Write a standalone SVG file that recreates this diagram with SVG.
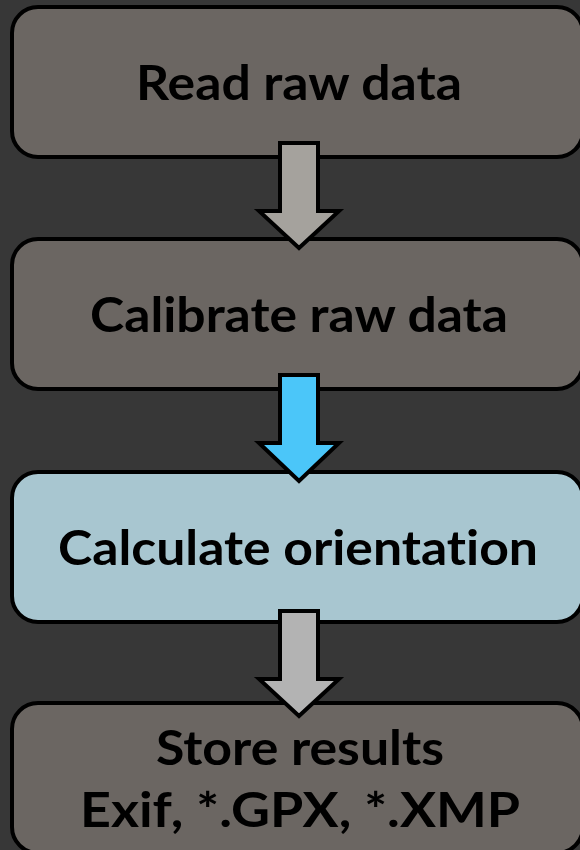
<svg xmlns="http://www.w3.org/2000/svg" width="580" height="850" viewBox="0 0 580 850">
<style>
.box{stroke:#000;stroke-width:4;}
.g{fill:#6b6662;}
.b{fill:#a8c6d0;}
.arr{stroke:#000;stroke-width:4;stroke-linejoin:miter;}
.t{font-family:"Lato","Liberation Sans",sans-serif;font-weight:bold;font-size:48px;fill:#000;text-anchor:middle;font-variant-ligatures:none;font-feature-settings:"liga" 0,"clig" 0;}
</style>
<rect x="0" y="0" width="580" height="850" fill="#373737"/>
<g id="node1"><rect class="box g" x="12" y="7" width="571" height="150" rx="26"/><text class="t" x="299" y="100" textLength="326" lengthAdjust="spacingAndGlyphs">Read raw data</text></g>
<g id="node2"><rect class="box g" x="12" y="239" width="571" height="150" rx="26"/><text class="t" x="299" y="332" textLength="418" lengthAdjust="spacingAndGlyphs">Calibrate raw data</text></g>
<g id="node3"><rect class="box b" x="12" y="472" width="571" height="150" rx="26"/><text class="t" x="298" y="565" textLength="480" lengthAdjust="spacingAndGlyphs">Calculate orientation</text></g>
<g id="node4"><rect class="box g" x="12" y="703" width="571" height="150" rx="26"/><text class="t" x="300" y="765" textLength="288" lengthAdjust="spacingAndGlyphs">Store results</text><text class="t" x="300" y="827" textLength="440" lengthAdjust="spacingAndGlyphs">Exif, *.GPX, *.XMP</text></g>
<g id="connectors">
<path class="arr" fill="#a5a29d" d="M280,143 H318 V211 H339 L299,248 L259,211 H280 Z"/>
<path class="arr" fill="#4bc6f9" d="M280,375 H318 V443 H339 L299,481 L259,443 H280 Z"/>
<path class="arr" fill="#b3b3b3" d="M280,611 H318 V679 H339 L299,716 L259,679 H280 Z"/>
</g>
</svg>
